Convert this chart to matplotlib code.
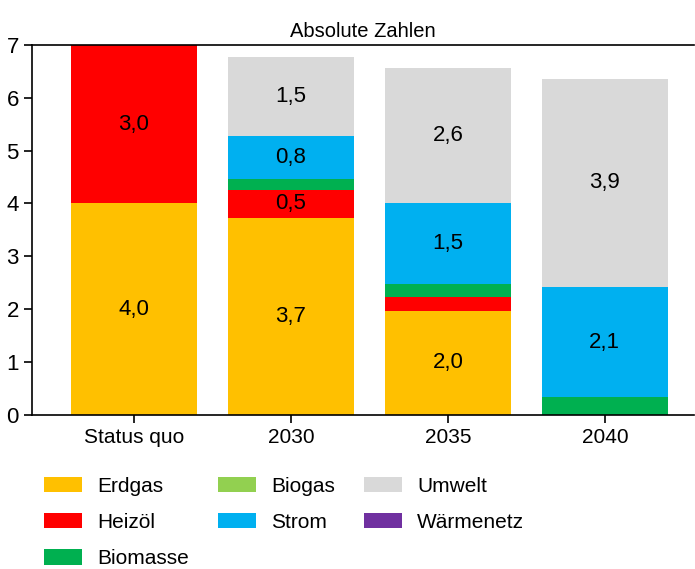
import matplotlib.pyplot as plt
from matplotlib.patches import Patch

plt.rcParams["font.family"] = ["Liberation Sans", "DejaVu Sans"]

categories = ["Status quo", "2030", "2035", "2040"]
erdgas = [4.0, 3.72, 1.97, 0.0]
heizoel = [3.0, 0.54, 0.26, 0.0]
biomasse = [0.0, 0.20, 0.25, 0.33]
biogas = [0.0, 0.0, 0.0, 0.0]
strom = [0.0, 0.81, 1.52, 2.09]
umwelt = [0.0, 1.51, 2.57, 3.94]
waermenetz = [0.0, 0.0, 0.0, 0.0]

series = [
    ("Erdgas", erdgas, "#FFC000"),
    ("Heizöl", heizoel, "#FF0000"),
    ("Biomasse", biomasse, "#00B050"),
    ("Biogas", biogas, "#92D050"),
    ("Strom", strom, "#00B0F0"),
    ("Umwelt", umwelt, "#D9D9D9"),
    ("Wärmenetz", waermenetz, "#7030A0"),
]


def main():
    fig = plt.figure(figsize=(6.95, 5.69), dpi=100)
    ax = fig.add_axes([0.046, 0.271, 0.953, 0.650])

    x = list(range(len(categories)))
    bottom = [0.0] * len(categories)
    for name, vals, color in series:
        ax.bar(x, vals, width=0.8, bottom=bottom, color=color, label=name)
        for i, v in enumerate(vals):
            if v >= 0.4:
                ax.text(i, bottom[i] + v / 2, f"{v:.1f}".replace(".", ","),
                        ha="center", va="center", fontsize=16)
        bottom = [b + v for b, v in zip(bottom, vals)]

    ax.set_xlim(-0.65, 3.57)
    ax.set_ylim(0, 7)
    ax.set_xticks(x)
    ax.set_xticklabels(categories)
    ax.tick_params(labelsize=15, length=6, width=1.2)
    ax.tick_params(axis="y", labelsize=16)
    ax.spines["right"].set_visible(False)
    for s in ["left", "bottom", "top"]:
        ax.spines[s].set_linewidth(1.2)
    ax.set_title("Absolute Zahlen", fontsize=14.5, pad=6)

    handles = [Patch(facecolor=c, label=n) for n, _, c in series]
    fig.legend(handles=handles, ncol=3, frameon=False, fontsize=15,
               loc="upper left", bbox_to_anchor=(0.063, 0.162),
               borderpad=0, borderaxespad=0,
               handlelength=1.83, handleheight=0.77, handletextpad=0.72,
               columnspacing=1.4, labelspacing=0.82)

    fig.savefig("out.png", dpi=100)
    plt.close(fig)


if __name__ == "__main__":
    main()
